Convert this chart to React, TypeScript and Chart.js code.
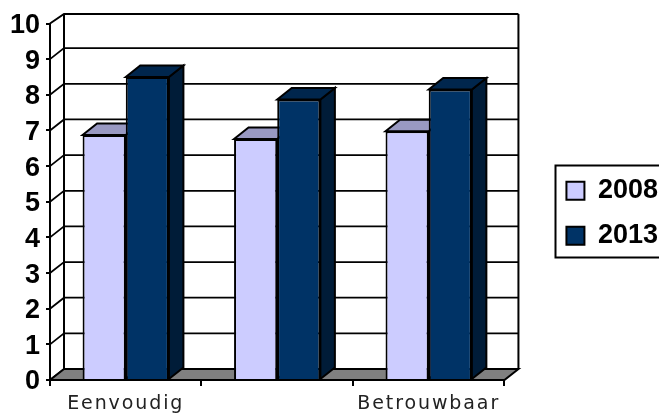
import { useEffect, useRef } from "react";
import { Chart, CategoryScale, registerables } from "chart.js";

const categories = ["Eenvoudig", "", "Betrouwbaar"];
const seriesNames = ["2008", "2013"];
const values2008 = [6.87, 6.76, 6.98];
const values2013 = [8.5, 7.87, 8.15];
const yTop = 10;

// Category axis whose labels are drawn with wider letter spacing.
class SpacedCategoryScale extends CategoryScale {
  static id = "spacedCategory";
  static defaults = CategoryScale.defaults;
  drawLabels(area: any) {
    const ctx = (this as any).ctx;
    ctx.save();
    ctx.letterSpacing = "1.9px";
    super.drawLabels(area);
    ctx.restore();
  }
}
Chart.register(...registerables, SpacedCategoryScale);

const FRONT = ["#CCCCFF", "#003366"];
const TOP = ["#9999C2", "#00264D"];
const SIDE = ["#8F8FB3", "#001C38"];
const LINE = "#000000";
const WALL_DX = 14;
const WALL_DY = 11;
const WALL_TOP = 14;
const BAR_DX = 14.5;
const BAR_DY = 11.5;

function poly(ctx: CanvasRenderingContext2D, pts: number[][], fill: string | null, lw = 2) {
  ctx.beginPath();
  pts.forEach((p, i) => (i ? ctx.lineTo(p[0], p[1]) : ctx.moveTo(p[0], p[1])));
  ctx.closePath();
  if (fill) {
    ctx.fillStyle = fill;
    ctx.fill();
  }
  ctx.lineWidth = lw;
  ctx.strokeStyle = LINE;
  ctx.stroke();
}

// Side wall, back wall and floor of the 3D box, plus the frame around the legend.
const wallPlugin = {
  id: "walls",
  afterLayout(chart: any) {
    chart.legend.left += 44;
    chart.legend.right += 44;
    chart.legend.top -= 6;
    chart.legend.bottom -= 6;
  },
  beforeDraw(chart: any) {
    const { ctx, chartArea: a, scales } = chart;
    const y = scales.y;
    ctx.save();
    ctx.fillStyle = "#ffffff";
    ctx.fillRect(0, 0, chart.width, chart.height);
    ctx.strokeStyle = LINE;
    ctx.lineWidth = 2;
    ctx.strokeRect(555.5, 165.5, 120, 92);
    const bx = a.left + WALL_DX;
    const ex = a.right + WALL_DX;
    for (let v = 0; v <= yTop; v++) {
      const py = y.getPixelForValue(v);
      const by = Math.max(py - WALL_DY, WALL_TOP);
      ctx.lineWidth = v === yTop ? 2 : 1.75;
      ctx.beginPath();
      ctx.moveTo(a.left, py);
      ctx.lineTo(bx, by);
      ctx.lineTo(ex, by);
      ctx.stroke();
    }
    ctx.lineWidth = 2;
    ctx.beginPath();
    ctx.moveTo(bx, WALL_TOP);
    ctx.lineTo(bx, a.bottom - WALL_DY);
    ctx.moveTo(ex, WALL_TOP);
    ctx.lineTo(ex, a.bottom - WALL_DY);
    ctx.stroke();
    poly(
      ctx,
      [
        [a.left, a.bottom],
        [bx, a.bottom - WALL_DY],
        [ex, a.bottom - WALL_DY],
        [a.right, a.bottom],
      ],
      "#808080",
    );
    ctx.restore();
  },
  // Top and side faces go under the front faces that Chart.js paints next.
  beforeDatasetsDraw(chart: any) {
    const { ctx } = chart;
    ctx.save();
    chart.data.datasets.forEach((_: any, i: number) => {
      chart.getDatasetMeta(i).data.forEach((bar: any) => {
        const x0 = bar.x - bar.width / 2;
        const x1 = bar.x + bar.width / 2;
        poly(ctx, [[x1, bar.y], [x1 + BAR_DX, bar.y - BAR_DY], [x1 + BAR_DX, bar.base - BAR_DY], [x1, bar.base]], SIDE[i]);
        poly(ctx, [[x0, bar.y], [x0 + BAR_DX, bar.y - BAR_DY], [x1 + BAR_DX, bar.y - BAR_DY], [x1, bar.y]], TOP[i]);
      });
    });
    ctx.restore();
  },
};

export default function App() {
  const ref = useRef<HTMLCanvasElement>(null);
  useEffect(() => {
    document.body.style.margin = "0";
    const chart = new Chart(ref.current!, {
      type: "bar",
      data: {
        labels: categories,
        datasets: [values2008, values2013].map((data, i) => ({
          label: seriesNames[i],
          data,
          backgroundColor: FRONT[i],
          borderColor: LINE,
          borderWidth: 2,
          barPercentage: 1,
          categoryPercentage: 0.57,
          clip: false as any,
        })),
      },
      options: {
        animation: false,
        responsive: false,
        layout: { padding: { left: 0, right: 35, top: 23.5, bottom: 0 } },
        scales: {
          x: {
            type: "spacedCategory" as any,
            border: { color: LINE, width: 2 },
            grid: { drawOnChartArea: false, color: LINE, tickLength: 6, lineWidth: 2 },
            ticks: {
              autoSkip: false,
              maxRotation: 0,
              padding: 7,
              color: "#222222",
              font: { family: "'DejaVu Sans'", size: 19 },
            },
            afterFit(scale: any) {
              scale.height = 35;
            },
          },
          y: {
            min: 0,
            max: yTop,
            ticks: {
              stepSize: 1,
              padding: 6,
              labelOffset: 2,
              color: "#000000",
              font: { family: "'Liberation Sans'", size: 27, weight: "bold" },
            },
            border: { color: LINE, width: 2 },
            grid: { drawOnChartArea: false, color: LINE, tickLength: 4, lineWidth: 2 },
            afterFit(scale: any) {
              scale.width = 50;
            },
          },
        },
        plugins: {
          legend: {
            position: "right",
            labels: {
              boxWidth: 18,
              boxHeight: 18,
              padding: 18,
              color: "#000000",
              font: { family: "'Liberation Sans'", size: 27, weight: "bold" },
            },
          },
          tooltip: { enabled: false },
        },
      },
      plugins: [wallPlugin],
    });
    return () => chart.destroy();
  }, []);
  return <canvas ref={ref} width={659} height={415} style={{ display: "block" }} />;
}
